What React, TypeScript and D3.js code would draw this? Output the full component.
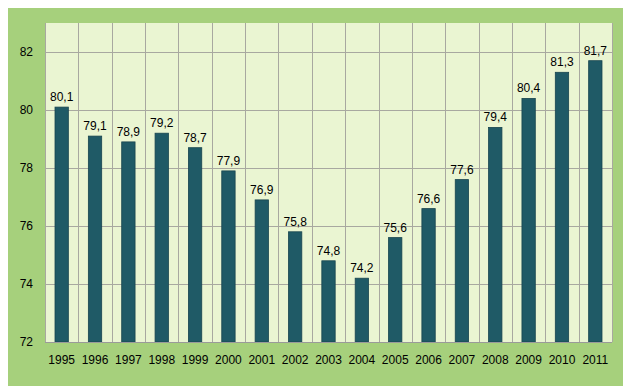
import React, { useRef, useEffect } from "react";
import * as d3 from "d3";

const years = [
  "1995", "1996", "1997", "1998", "1999", "2000", "2001", "2002", "2003",
  "2004", "2005", "2006", "2007", "2008", "2009", "2010", "2011",
];
const values = [
  80.1, 79.1, 78.9, 79.2, 78.7, 77.9, 76.9, 75.8, 74.8, 74.2, 75.6, 76.6, 77.6,
  79.4, 80.4, 81.3, 81.7,
];
const yTicks = [72, 74, 76, 78, 80, 82];

const App = () => {
  const ref = useRef<SVGSVGElement>(null);

  useEffect(() => {
    const svg = d3.select(ref.current);
    svg.selectAll("*").remove();

    const outerW = 623;
    const outerH = 378;
    // plot area in svg coords (page offset 8px)
    const margin = { top: 15, right: 19, bottom: 44, left: 37 };
    const width = outerW - margin.left - margin.right;
    const height = outerH - margin.top - margin.bottom;

    const data = years.map((y, i) => ({ year: y, value: values[i] }));

    svg
      .append("rect")
      .attr("width", outerW)
      .attr("height", outerH)
      .attr("fill", "#a6d07c");

    const g = svg
      .append("g")
      .attr("transform", `translate(${margin.left},${margin.top})`);

    g.append("rect")
      .attr("width", width)
      .attr("height", height)
      .attr("fill", "#eaf5d2");

    const x = d3.scaleBand().domain(years).range([0, width]).paddingInner(0).paddingOuter(0);
    const y = d3.scaleLinear().domain([72, 83]).range([height, 0]);

    // horizontal grid
    g.selectAll(".hgrid")
      .data(yTicks)
      .enter()
      .append("line")
      .attr("x1", 0)
      .attr("x2", width)
      .attr("y1", (d) => Math.round(y(d)) + 0.5)
      .attr("y2", (d) => Math.round(y(d)) + 0.5)
      .attr("stroke", "#a8a8a0")
      .attr("stroke-width", 1);

    // vertical grid at category boundaries
    const bounds = years.map((d) => x(d) as number).concat([width]);
    g.selectAll(".vgrid")
      .data(bounds)
      .enter()
      .append("line")
      .attr("x1", (d) => Math.round(d) + 0.5)
      .attr("x2", (d) => Math.round(d) + 0.5)
      .attr("y1", 0)
      .attr("y2", height)
      .attr("stroke", "#a8a8a0")
      .attr("stroke-width", 1);

    // bars
    const bw = x.bandwidth() * 0.4;
    g.selectAll(".bar")
      .data(data)
      .enter()
      .append("rect")
      .attr("x", (d) => (x(d.year) as number) + (x.bandwidth() - bw) / 2)
      .attr("y", (d) => y(d.value))
      .attr("width", bw)
      .attr("height", (d) => height - y(d.value))
      .attr("fill", "#1f5a66")
      .attr("stroke", "#18454f")
      .attr("stroke-width", 0.8);

    // value labels
    g.selectAll(".label")
      .data(data)
      .enter()
      .append("text")
      .attr("x", (d) => (x(d.year) as number) + x.bandwidth() / 2)
      .attr("y", (d) => y(d.value) - 6)
      .attr("text-anchor", "middle")
      .style("font-family", "'Liberation Sans', Arial, sans-serif")
      .style("font-size", "12px")
      .style("fill", "#000")
      .text((d) => d.value.toFixed(1).replace(".", ","));

    // y axis labels
    const yAxis = g
      .append("g")
      .call(d3.axisLeft(y).tickValues(yTicks).tickSize(0).tickPadding(12));
    yAxis.select(".domain").remove();
    yAxis
      .selectAll("text")
      .style("font-family", "'Liberation Sans', Arial, sans-serif")
      .style("font-size", "12px")
      .style("fill", "#000");

    // x axis labels
    const xAxis = g
      .append("g")
      .attr("transform", `translate(0,${height})`)
      .call(d3.axisBottom(x).tickSize(0).tickPadding(13));
    xAxis.select(".domain").remove();
    xAxis
      .selectAll("text")
      .style("font-family", "'Liberation Sans', Arial, sans-serif")
      .style("font-size", "12px")
      .style("fill", "#000");

    // bottom axis line
    g.append("line")
      .attr("x1", 0)
      .attr("x2", width)
      .attr("y1", Math.round(height) + 0.5)
      .attr("y2", Math.round(height) + 0.5)
      .attr("stroke", "#9a9a9a");
  }, []);

  return <svg ref={ref} width={623} height={378} style={{ display: "block" }} />;
};

export default App;
